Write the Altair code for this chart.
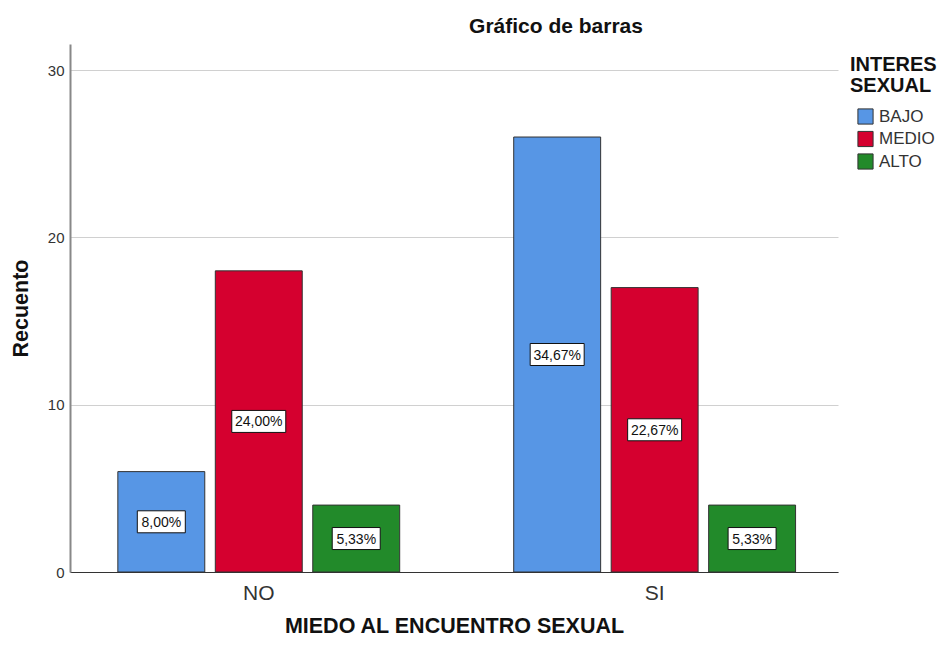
import altair as alt
import pandas as pd

miedo = ["NO", "NO", "NO", "SI", "SI", "SI"]
interes = ["BAJO", "MEDIO", "ALTO", "BAJO", "MEDIO", "ALTO"]
recuento = [6, 18, 4, 26, 17, 4]
porcentaje = ["8,00%", "24,00%", "5,33%", "34,67%", "22,67%", "5,33%"]

niveles = ["BAJO", "MEDIO", "ALTO"]
colores = ["#5796E5", "#D5002F", "#228A2A"]

df = pd.DataFrame({"miedo": miedo, "interes": interes,
                   "recuento": recuento, "etiqueta": porcentaje})
df["mitad"] = df["recuento"] / 2
df["largo"] = df["etiqueta"].str.len().astype(str)

FONT = "Liberation Sans"

x_enc = alt.X("miedo:N", sort=["NO", "SI"],
              scale=alt.Scale(paddingInner=0.288, paddingOuter=0.114, align=0.53),
              axis=alt.Axis(title="MIEDO AL ENCUENTRO SEXUAL", labelAngle=0,
                            labelFontSize=21, labelColor="#333333", labelPadding=10,
                            ticks=False, titleFontSize=21.5, titleFontWeight="bold",
                            titlePadding=12, titleColor="#111111",
                            domainColor="#333333", grid=False, labelFont=FONT,
                            titleFont=FONT))
xo_enc = alt.XOffset("interes:N", sort=niveles,
                     scale=alt.Scale(paddingInner=0.108, paddingOuter=0))
y_scale = alt.Scale(domain=[0, 31.56], nice=False)

bars = alt.Chart(df).mark_bar(stroke="#333333", strokeWidth=1).encode(
    x=x_enc,
    xOffset=xo_enc,
    y=alt.Y("recuento:Q", scale=y_scale,
            axis=alt.Axis(title="Recuento", values=[0, 10, 20, 30], tickSize=0,
                          labelFontSize=15, labelColor="#333333", labelPadding=6,
                          titleFontSize=21.5, titleFontWeight="bold", titlePadding=15,
                          titleColor="#111111", gridColor="#D0D0D0", grid=True,
                          domainColor="#888888", labelFont=FONT, titleFont=FONT)),
    color=alt.Color("interes:N", sort=niveles,
                    scale=alt.Scale(domain=niveles, range=colores),
                    legend=alt.Legend(title=["INTERES", "SEXUAL"], orient="none",
                                      legendX=780, legendY=11, padding=0,
                                      titleFontSize=20, titleFontWeight="bold",
                                      titleFont=FONT, titleColor="#111111",
                                      titleLineHeight=21, titlePadding=12,
                                      labelFontSize=17, labelFont=FONT,
                                      labelColor="#333333", symbolType="square",
                                      symbolSize=230, symbolStrokeColor="#333333",
                                      symbolStrokeWidth=1, symbolOffset=7,
                                      rowPadding=1.5, labelOffset=5)),
)

caja5 = "M-0.8889,-0.4074L0.8889,-0.4074L0.8889,0.4074L-0.8889,0.4074Z"
caja6 = "M-1,-0.4074L1,-0.4074L1,0.4074L-1,0.4074Z"

cajas = alt.Chart(df).mark_point(filled=True, fill="white", stroke="#111111",
                                 strokeWidth=1, opacity=1, size=2916).encode(
    x=alt.X("miedo:N", sort=["NO", "SI"]),
    xOffset=xo_enc,
    y=alt.Y("mitad:Q", scale=y_scale),
    shape=alt.Shape("largo:N", scale=alt.Scale(domain=["5", "6"], range=[caja5, caja6]),
                    legend=None),
)

textos = alt.Chart(df).mark_text(fontSize=14, font=FONT, color="#111111",
                                 baseline="middle", dy=1).encode(
    x=alt.X("miedo:N", sort=["NO", "SI"]),
    xOffset=xo_enc,
    y=alt.Y("mitad:Q", scale=y_scale),
    text="etiqueta:N",
)

chart = alt.layer(bars, cajas, textos).properties(
    width=768, height=528,
    title=alt.TitleParams("Gráfico de barras", fontSize=21, fontWeight="bold",
                          font=FONT, color="#111111", anchor="middle", dx=102,
                          offset=7),
    autosize=alt.AutoSizeParams(type="none"),
    padding={"left": 62, "top": 36, "right": 101, "bottom": 66},
).configure_view(stroke=None).configure_axisY(domainWidth=2)

chart.save("out.html", embed_options={"renderer": "svg", "actions": False})
